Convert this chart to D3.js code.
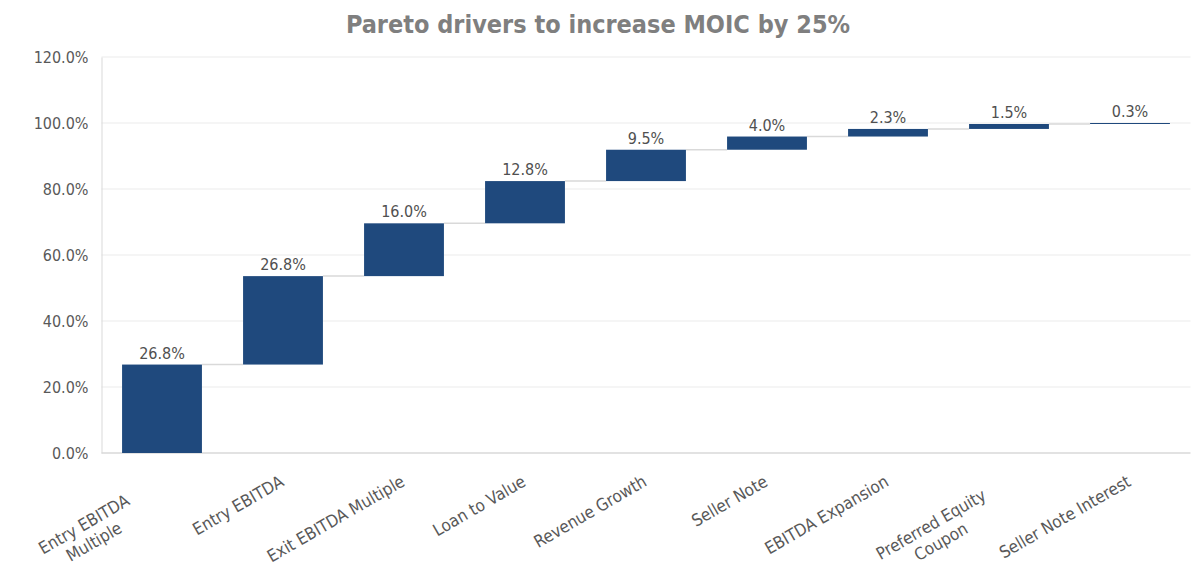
<!DOCTYPE html>
<html>
<head>
<meta charset="utf-8">
<script src="https://cdn.jsdelivr.net/npm/d3@7"></script>
<style>
  body { margin: 0; background: #fff; }
  text { font-family: "DejaVu Sans Condensed", "DejaVu Sans", sans-serif; }
</style>
</head>
<body>
<div class="canvas"></div>
<script>
// Chart data
const categories = [
  "Entry EBITDA\nMultiple",
  "Entry EBITDA",
  "Exit EBITDA Multiple",
  "Loan to Value",
  "Revenue Growth",
  "Seller Note",
  "EBITDA Expansion",
  "Preferred Equity\nCoupon",
  "Seller Note Interest"
];
const contributions = [26.8, 26.8, 16.0, 12.8, 9.5, 4.0, 2.3, 1.5, 0.3];
const yTicks = [0, 20, 40, 60, 80, 100, 120];

const dims = { width: 1200, height: 578 };
const plot = { left: 101.5, right: 1190.5, top: 57, bottom: 453 };

// Waterfall steps
let run = 0;
const steps = contributions.map((v, i) => {
  const s = { name: categories[i], value: v, start: run, end: run + v };
  run += v;
  return s;
});

const svg = d3
  .select(".canvas")
  .append("svg")
  .attr("width", dims.width)
  .attr("height", dims.height);

const x = d3
  .scaleBand()
  .domain(categories)
  .range([plot.left, plot.right])
  .paddingInner(0.34)
  .paddingOuter(0.17);

const y = d3.scaleLinear().domain([0, 120]).range([plot.bottom, plot.top]);

// Title
svg
  .append("text")
  .attr("x", 598)
  .attr("y", 33)
  .attr("text-anchor", "middle")
  .attr("font-size", 25)
  .attr("font-weight", "bold")
  .attr("fill", "#7f7f7f")
  .text("Pareto drivers to increase MOIC by 25%");

// Gridlines
svg
  .append("g")
  .selectAll("line")
  .data(yTicks.filter((d) => d > 0))
  .join("line")
  .attr("x1", plot.left)
  .attr("x2", plot.right)
  .attr("y1", (d) => y(d))
  .attr("y2", (d) => y(d))
  .attr("stroke", "#ebebeb")
  .attr("stroke-width", 1);

// Y axis
const yAxis = svg
  .append("g")
  .attr("transform", `translate(${plot.left},0)`)
  .call(
    d3
      .axisLeft(y)
      .tickValues(yTicks)
      .tickSize(0)
      .tickPadding(13)
      .tickFormat((d) => d3.format(".1f")(d) + "%")
  );
yAxis.select(".domain").attr("stroke", "#d9d9d9");
yAxis
  .selectAll("text")
  .attr("font-size", 16)
  .attr("fill", "#595959")
  .attr("font-family", '"DejaVu Sans Condensed", "DejaVu Sans", sans-serif');

// X axis baseline
svg
  .append("line")
  .attr("x1", plot.left)
  .attr("x2", plot.right)
  .attr("y1", y(0))
  .attr("y2", y(0))
  .attr("stroke", "#d9d9d9")
  .attr("stroke-width", 1.5);

// Connectors
svg
  .append("g")
  .selectAll("line")
  .data(steps.slice(0, -1))
  .join("line")
  .attr("x1", (d) => x(d.name) + x.bandwidth())
  .attr("x2", (d, i) => x(steps[i + 1].name))
  .attr("y1", (d) => y(d.end))
  .attr("y2", (d) => y(d.end))
  .attr("stroke", "#d9d9d9")
  .attr("stroke-width", 1.5);

// Bars
svg
  .append("g")
  .selectAll("rect")
  .data(steps)
  .join("rect")
  .attr("x", (d) => x(d.name))
  .attr("width", x.bandwidth())
  .attr("y", (d) => y(d.end))
  .attr("height", (d) => Math.max(1, y(d.start) - y(d.end)))
  .attr("fill", "#1f497d");

// Value labels
svg
  .append("g")
  .selectAll("text")
  .data(steps)
  .join("text")
  .attr("x", (d) => x(d.name) + x.bandwidth() / 2)
  .attr("y", (d) => y(d.end) - 6)
  .attr("text-anchor", "middle")
  .attr("font-size", 16)
  .attr("fill", "#505050")
  .text((d) => d3.format(".1f")(d.value) + "%");

// Category labels, rotated
const wrapW = 178;
const cats = svg
  .append("g")
  .selectAll("g")
  .data(steps)
  .join("g")
  .attr(
    "transform",
    (d) => `translate(${x(d.name) + x.bandwidth() / 2 + 2},485) rotate(-30)`
  );

cats.each(function (d) {
  const lines = d.name.split("\n");
  const t = d3
    .select(this)
    .append("text")
    .attr("font-size", 17)
    .attr("fill", "#595959")
    .attr("text-anchor", lines.length > 1 ? "middle" : "end");
  lines.forEach((ln, i) => {
    t.append("tspan")
      .attr("x", lines.length > 1 ? -wrapW / 2 : 0)
      .attr("dy", i === 0 ? 0 : 20)
      .text(ln);
  });
});
</script>
</body>
</html>
